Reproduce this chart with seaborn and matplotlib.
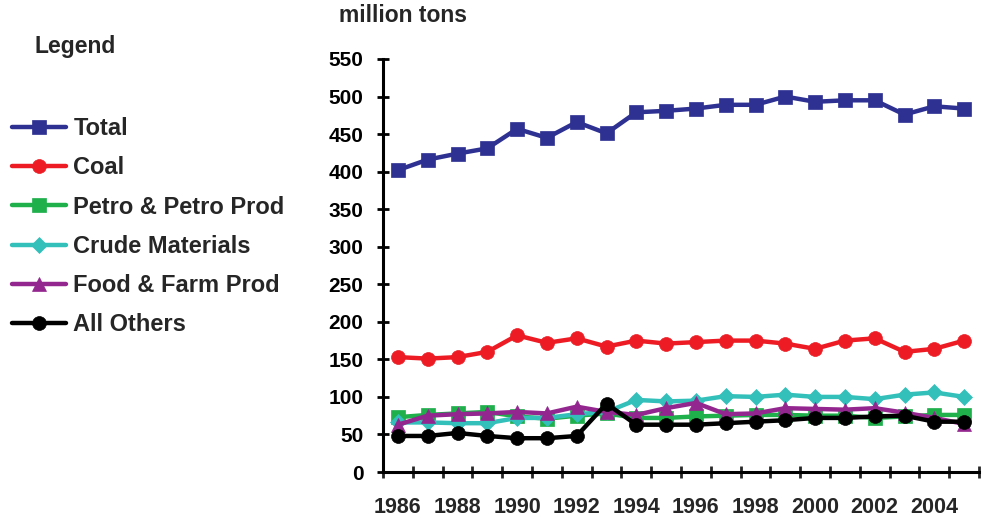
import matplotlib
matplotlib.use("Agg")
import matplotlib.pyplot as plt
import seaborn as sns
import pandas as pd
import numpy as np
from matplotlib.ticker import MultipleLocator, FixedLocator

years = list(range(1986, 2006))
total = [402, 416, 424, 431, 457, 445, 466, 451, 479, 481, 484, 489, 489, 500, 493, 495, 495, 476, 487, 484]
coal = [153, 151, 153, 160, 182, 172, 178, 167, 175, 171, 173, 175, 175, 171, 164, 175, 178, 160, 164, 175]
petro = [73, 76, 78, 80, 74, 71, 75, 78, 72, 72, 74, 75, 76, 76, 75, 75, 72, 74, 76, 76]
crude = [66, 66, 65, 65, 72, 72, 77, 80, 96, 94, 95, 101, 100, 103, 100, 100, 97, 103, 106, 100]
food = [63, 75, 77, 78, 80, 78, 87, 80, 76, 85, 92, 77, 78, 85, 84, 83, 85, 79, 72, 64]
others = [48, 48, 52, 48, 45, 45, 48, 91, 63, 63, 63, 65, 67, 69, 72, 72, 74, 75, 67, 67]

series_names = ["Total", "Coal", "Petro & Petro Prod", "Crude Materials", "Food & Farm Prod", "All Others"]
series_values = [total, coal, petro, crude, food, others]
colors = ["#2E3192", "#ED1C24", "#1FAF4B", "#33C0BA", "#93278F", "#000000"]
markers = ["s", "o", "s", "D", "^", "o"]
msizes = [9.5, 10, 9.5, 8.5, 10, 10]

sns.set_style("ticks")
plt.rcParams["font.family"] = ["Liberation Sans", "DejaVu Sans"]
plt.rcParams["font.weight"] = "bold"

fig = plt.figure(figsize=(9.86, 5.19), dpi=100)
ax = fig.add_axes([383 / 986, 1 - 472 / 519, 596 / 986, (472 - 59) / 519])

for name, vals, c, m, ms in zip(series_names, series_values, colors, markers, msizes):
    df = pd.DataFrame({"year": years, "value": vals})
    sns.lineplot(data=df, x="year", y="value", ax=ax, color=c, marker=m,
                 markersize=ms, markeredgecolor=c, markeredgewidth=0.5,
                 linewidth=3.2, label=name, legend=False, clip_on=False)

ax.set_xlim(1985.5, 2005.5)
ax.set_ylim(0, 550)
ax.set_xlabel("")
ax.set_ylabel("")
for s in ["top", "right"]:
    ax.spines[s].set_visible(False)
for s in ["left", "bottom"]:
    ax.spines[s].set_linewidth(2.2)
    ax.spines[s].set_color("black")

ax.yaxis.set_major_locator(MultipleLocator(50))
ax.tick_params(axis="y", direction="inout", length=8, width=2, pad=10,
               labelsize=15, colors="black")
ax.xaxis.set_major_locator(FixedLocator(years[::2]))
ax.xaxis.set_minor_locator(FixedLocator(np.arange(1985.5, 2006, 1.0)))
ax.tick_params(axis="x", which="major", length=0, pad=18, labelsize=15.5)
ax.tick_params(axis="x", which="minor", direction="inout", length=8, width=2)
for lab in ax.get_xticklabels() + ax.get_yticklabels():
    lab.set_fontweight("bold")

fig.text(403 / 986, 1 - 22 / 519, "million tons", ha="center", va="baseline",
         fontsize=16.5, fontweight="bold")
fig.text(35 / 986, 1 - 53 / 519, "Legend", ha="left", va="baseline",
         fontsize=16.5, fontweight="bold")

handles, labels = ax.get_legend_handles_labels()
leg = fig.legend(handles, labels, loc="upper left", bbox_to_anchor=(12 / 986, 1 - 117 / 519),
                 frameon=False, fontsize=17, handlelength=2.3, handletextpad=0.3,
                 labelspacing=0.69, borderpad=0, borderaxespad=0)
for t in leg.get_texts():
    t.set_fontweight("bold")

fig.savefig("out.png", dpi=100)
